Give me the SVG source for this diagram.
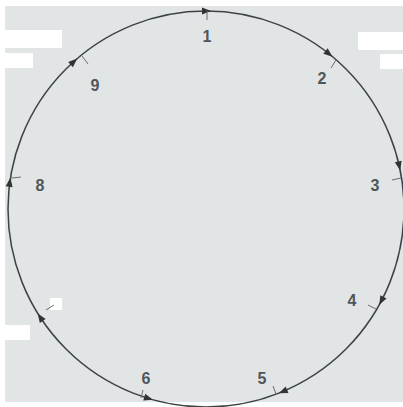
<svg xmlns="http://www.w3.org/2000/svg" xmlns:xlink="http://www.w3.org/1999/xlink" width="403" height="407" viewBox="0 0 403 407">
<style>
.lbl{font-family:"Liberation Sans",Arial,sans-serif;font-size:16px;font-weight:bold;fill:#505558;text-anchor:middle;dominant-baseline:central}
.tick{stroke:#6a6e70;stroke-width:1}
.ah{fill:#333}
.patch{fill:#ffffff}
</style>
<defs>
<path id="ah" d="M5,0 L-4,-3.5 L-4,3.5 Z"/>
</defs>
<rect x="0" y="0" width="403" height="407" fill="#ffffff"/>
<rect x="5" y="6" width="398" height="396" fill="#e1e5e6"/>
<g id="patches">
<rect class="patch" x="5" y="30" width="57" height="18"/>
<rect class="patch" x="5" y="53" width="28" height="15"/>
<rect class="patch" x="358" y="32" width="45" height="18"/>
<rect class="patch" x="380" y="54" width="23" height="15"/>
<rect class="patch" x="5" y="325" width="25" height="15"/>
<rect class="patch" x="50" y="298" width="12" height="12"/>
<rect class="patch" x="0" y="402" width="103" height="5"/>
<rect class="patch" x="303" y="402" width="74" height="5"/>
</g>
<g id="connectors">
<circle cx="206" cy="209" r="198" fill="none" stroke="#3e4244" stroke-width="1.5"/>
<use xlink:href="#ah" class="ah" transform="translate(206,11) rotate(0)"/>
<use xlink:href="#ah" class="ah" transform="translate(328.6,53.6) rotate(38.3)"/>
<use xlink:href="#ah" class="ah" transform="translate(399.1,165.5) rotate(77.3)"/>
<use xlink:href="#ah" class="ah" transform="translate(381.6,300.4) rotate(117.5)"/>
<use xlink:href="#ah" class="ah" transform="translate(283.4,391.3) rotate(157)"/>
<use xlink:href="#ah" class="ah" transform="translate(148.1,398.3) rotate(17)"/>
<use xlink:href="#ah" class="ah" transform="translate(40.5,317.7) rotate(236.7)"/>
<use xlink:href="#ah" class="ah" transform="translate(9.7,182.8) rotate(277.6)"/>
<use xlink:href="#ah" class="ah" transform="translate(73.5,61.9) rotate(318)"/>
</g>
<g id="ticks">
<line class="tick" x1="207" y1="11" x2="207" y2="20"/>
<line class="tick" x1="336" y1="60" x2="331" y2="68"/>
<line class="tick" x1="401" y1="178" x2="392" y2="180"/>
<line class="tick" x1="376" y1="309" x2="368" y2="305"/>
<line class="tick" x1="276" y1="394" x2="273" y2="386"/>
<line class="tick" x1="141" y1="398" x2="143" y2="390"/>
<line class="tick" x1="46" y1="310" x2="54" y2="305"/>
<line class="tick" x1="12" y1="178" x2="21" y2="177"/>
<line class="tick" x1="82" y1="56" x2="88" y2="64"/>
</g>
<g id="n1"><text class="lbl" x="207" y="36">1</text></g>
<g id="n2"><text class="lbl" x="322" y="78">2</text></g>
<g id="n3"><text class="lbl" x="375" y="185">3</text></g>
<g id="n4"><text class="lbl" x="352" y="300">4</text></g>
<g id="n5"><text class="lbl" x="262" y="378">5</text></g>
<g id="n6"><text class="lbl" x="146" y="378">6</text></g>
<g id="n8"><text class="lbl" x="40" y="185">8</text></g>
<g id="n9"><text class="lbl" x="95" y="85">9</text></g>
</svg>
